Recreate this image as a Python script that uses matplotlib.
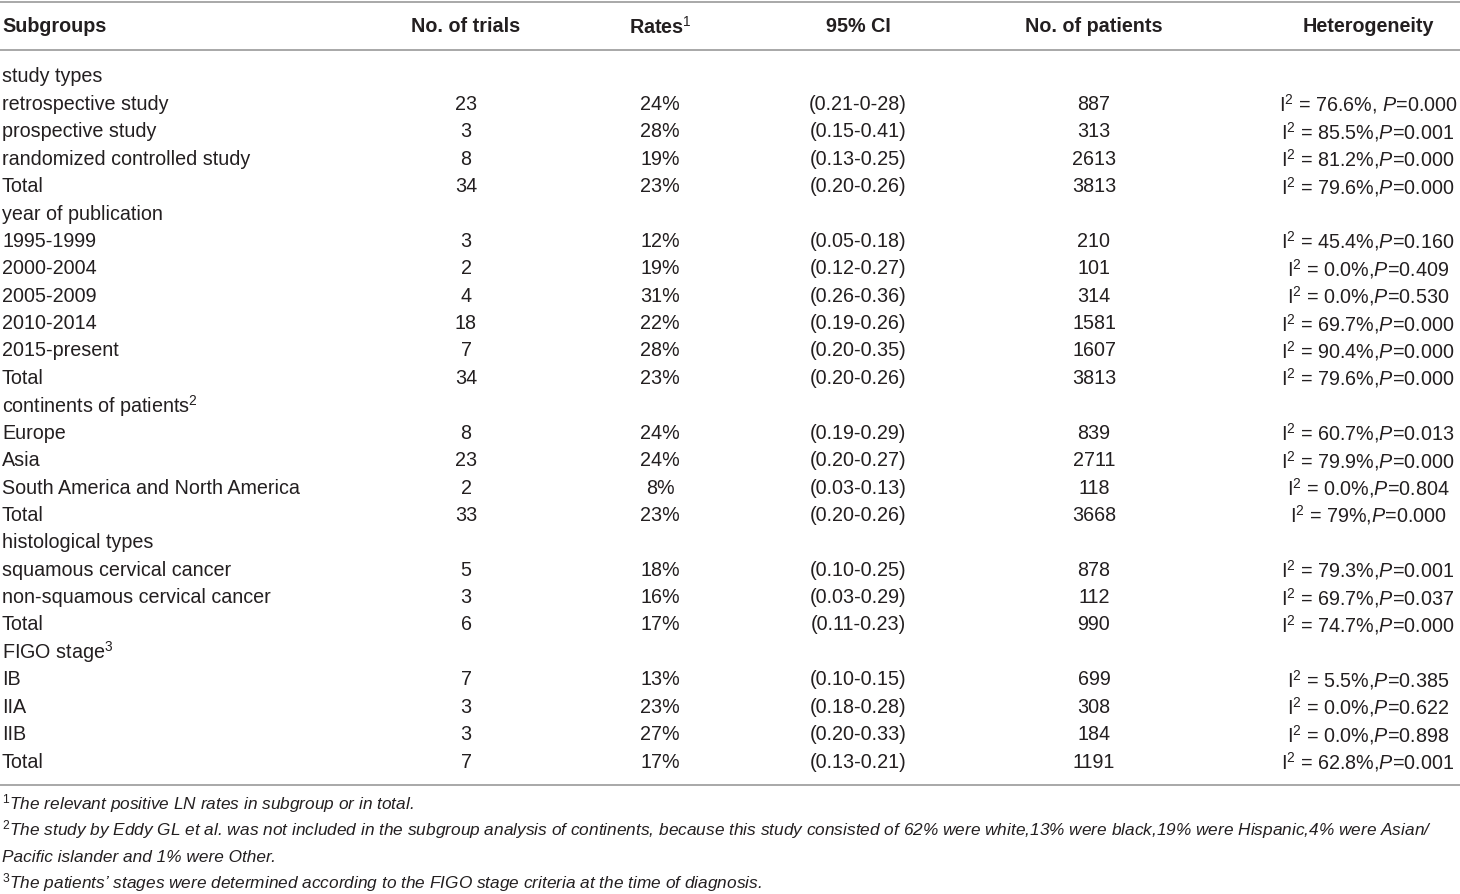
import matplotlib
matplotlib.use('Agg')
import matplotlib.pyplot as plt

plt.rcParams['font.family'] = ['Liberation Sans', 'DejaVu Sans']
plt.rcParams['mathtext.fontset'] = 'custom'
plt.rcParams['mathtext.rm'] = 'Liberation Sans'
plt.rcParams['mathtext.it'] = 'Liberation Sans:italic'
plt.rcParams['mathtext.bf'] = 'Liberation Sans:bold'

headers = ['Subgroups', 'No. of trials', 'Rates$^1$', '95% CI', 'No. of patients', 'Heterogeneity']

subgroups = [
    'study types', 'retrospective study', 'prospective study', 'randomized controlled study', 'Total',
    'year of publication', '1995-1999', '2000-2004', '2005-2009', '2010-2014', '2015-present', 'Total',
    'continents of patients$^2$', 'Europe', 'Asia', 'South America and North America', 'Total',
    'histological types', 'squamous cervical cancer', 'non-squamous cervical cancer', 'Total',
    'FIGO stage$^3$', 'IB', 'IIA', 'IIB', 'Total',
]
trials = ['', '23', '3', '8', '34',
          '', '3', '2', '4', '18', '7', '34',
          '', '8', '23', '2', '33',
          '', '5', '3', '6',
          '', '7', '3', '3', '7']
rates = ['', '24%', '28%', '19%', '23%',
         '', '12%', '19%', '31%', '22%', '28%', '23%',
         '', '24%', '24%', '8%', '23%',
         '', '18%', '16%', '17%',
         '', '13%', '23%', '27%', '17%']
ci = ['', '(0.21-0-28)', '(0.15-0.41)', '(0.13-0.25)', '(0.20-0.26)',
      '', '(0.05-0.18)', '(0.12-0.27)', '(0.26-0.36)', '(0.19-0.26)', '(0.20-0.35)', '(0.20-0.26)',
      '', '(0.19-0.29)', '(0.20-0.27)', '(0.03-0.13)', '(0.20-0.26)',
      '', '(0.10-0.25)', '(0.03-0.29)', '(0.11-0.23)',
      '', '(0.10-0.15)', '(0.18-0.28)', '(0.20-0.33)', '(0.13-0.21)']
patients = ['', '887', '313', '2613', '3813',
            '', '210', '101', '314', '1581', '1607', '3813',
            '', '839', '2711', '118', '3668',
            '', '878', '112', '990',
            '', '699', '308', '184', '1191']
i2 = ['', '76.6%, ', '85.5%,', '81.2%,', '79.6%,',
      '', '45.4%,', '0.0%,', '0.0%,', '69.7%,', '90.4%,', '79.6%,',
      '', '60.7%,', '79.9%,', '0.0%,', '79%,',
      '', '79.3%,', '69.7%,', '74.7%,',
      '', '5.5%,', '0.0%,', '0.0%,', '62.8%,']
pvals = ['', '0.000', '0.001', '0.000', '0.000',
         '', '0.160', '0.409', '0.530', '0.000', '0.000', '0.000',
         '', '0.013', '0.000', '0.804', '0.000',
         '', '0.001', '0.037', '0.000',
         '', '0.385', '0.622', '0.898', '0.001']

footnotes = [
    '$^1$The relevant positive LN rates in subgroup or in total.',
    '$^2$The study by Eddy GL et al. was not included in the subgroup analysis of continents, because this study consisted of 62% were white,13% were black,19% were Hispanic,4% were Asian/',
    'Pacific islander and 1% were Other.',
    '$^3$The patients\u2019 stages were determined according to the FIGO stage criteria at the time of diagnosis.',
]

W, H = 1460, 894
fig = plt.figure(figsize=(W / 100, H / 100), dpi=100)
ax = fig.add_axes([0, 0, 1, 1])
ax.set_xlim(0, W)
ax.set_ylim(H, 0)
ax.axis('off')

col_x = [2, 466, 660, 858, 1094, 1368]
col_ha = ['left', 'center', 'center', 'center', 'center', 'center']
fs = 14.2
txt_color = '#231f20'
line_color = '#999999'

# rules
ax.plot([0, W], [2, 2], color=line_color, lw=1.2)
ax.plot([0, W], [50, 50], color=line_color, lw=1.2)
ax.plot([0, W], [785, 785], color=line_color, lw=1.2)

for x, ha, h in zip(col_x, col_ha, headers):
    ax.text(x, 27, h, ha=ha, va='center', fontsize=14.2, fontweight='bold', color=txt_color)

y0, dy = 77, 27.4
for i, lab in enumerate(subgroups):
    y = y0 + i * dy
    ax.text(col_x[0], y, lab, ha='left', va='center', fontsize=fs, color=txt_color)
    if trials[i] == '':
        continue
    vals = [trials[i], rates[i], ci[i], patients[i]]
    for x, v in zip(col_x[1:5], vals):
        ax.text(x, y, v, ha='center', va='center', fontsize=fs, color=txt_color)
    het = 'I$^2$ = ' + i2[i] + '$\\mathit{P}$=' + pvals[i]
    ax.text(col_x[5], y, het, ha='center', va='center', fontsize=fs, color=txt_color)

fy = [804, 830, 857, 883]
for y, t in zip(fy, footnotes):
    ax.text(2, y, t, ha='left', va='center', fontsize=12.4, style='italic', color=txt_color)

fig.savefig('out.png', dpi=100, facecolor='white')
